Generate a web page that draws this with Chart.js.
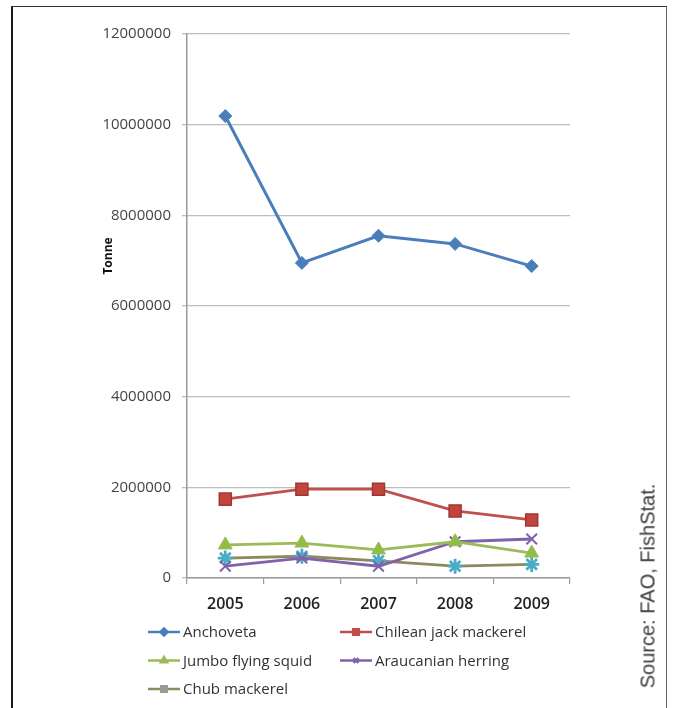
<!DOCTYPE html>
<html>
<head>
<meta charset="utf-8">
<script src="https://cdn.jsdelivr.net/npm/chart.js@4.4.1/dist/chart.umd.min.js"></script>
<style>
  html, body { margin: 0; padding: 0; background: #fff; }
  #wrap { position: relative; width: 678px; height: 708px; overflow: hidden; }
  #frame {
    position: absolute; left: 11px; top: 6px; width: 653px; height: 760px;
    border-left: 2px solid #1a1a1a; border-top: 1.5px solid #333; border-right: 1px solid #666;
  }
  #source {
    position: absolute; left: 648px; top: 586px;
    transform: translate(-50%, -50%) rotate(-90deg);
    white-space: nowrap; font: 20px "Liberation Sans", Arial, sans-serif; color: #3a3a3a;
  }
  canvas { position: absolute; left: 0; top: 0; }
</style>
</head>
<body>
<div id="wrap">
  <div id="frame"></div>
  <canvas id="catchChart" width="678" height="708"></canvas>
  <div id="source">Source: FAO, FishStat.</div>
</div>
<script>
// catches in tonnes, 2005-2009
const years = ['2005', '2006', '2007', '2008', '2009'];
const anchoveta = [10190000, 6950000, 7550000, 7370000, 6880000];
const chileanJackMackerel = [1740000, 1960000, 1960000, 1480000, 1280000];
const jumboFlyingSquid = [730000, 770000, 620000, 800000, 550000];
const araucanianHerring = [260000, 440000, 260000, 800000, 860000];
const chubMackerel = [440000, 480000, 380000, 260000, 300000];
const yTickValues = [0, 2000000, 4000000, 6000000, 8000000, 10000000, 12000000];

const baseFont = '"Open Sans", "Liberation Sans", sans-serif';

// draws "Tonne" and the two-column legend under the axis
const extrasPlugin = {
    id: 'extras',
    afterDraw(chart) {
        const ctx = chart.ctx;
        ctx.save();
        ctx.translate(109, 256);
        ctx.rotate(-Math.PI / 2);
        ctx.font = 'bold 12px ' + baseFont;
        ctx.fillStyle = '#111';
        ctx.textAlign = 'center';
        ctx.textBaseline = 'middle';
        ctx.fillText('Tonne', 0, 0);
        ctx.restore();

        chart.data.datasets.forEach((ds, i) => {
            const col = i % 2;
            const row = Math.floor(i / 2);
            const x0 = col ? 340 : 148;
            const y = 632 + row * 28.5;
            ctx.save();
            ctx.strokeStyle = ds.borderColor;
            ctx.lineWidth = 2.5;
            ctx.beginPath();
            ctx.moveTo(x0, y);
            ctx.lineTo(x0 + 32, y);
            ctx.stroke();
            const mk = ds.legendPoint;
            ctx.fillStyle = mk.color;
            ctx.strokeStyle = mk.color;
            Chart.helpers.drawPoint(ctx, { pointStyle: mk.style, radius: mk.radius, rotation: 0, borderWidth: 1.5 }, x0 + 16, y);
            ctx.fillStyle = '#333';
            ctx.font = '15px ' + baseFont;
            ctx.textAlign = 'left';
            ctx.textBaseline = 'middle';
            ctx.fillText(ds.label, x0 + 35, y + 1);
            ctx.restore();
        });
    }
};

new Chart(document.getElementById('catchChart').getContext('2d'), {
    type: 'line',
    data: {
        labels: years,
        datasets: [{
            label: 'Anchoveta',
            data: anchoveta,
            borderColor: '#4a7ebb',
            backgroundColor: '#4a7ebb',
            borderWidth: 3,
            pointStyle: 'rectRot',
            pointRadius: 6.5,
            pointBorderWidth: 1,
            legendPoint: { style: 'rectRot', radius: 3.5, color: '#4a7ebb' }
        }, {
            label: 'Chilean jack mackerel',
            data: chileanJackMackerel,
            borderColor: '#c0504d',
            backgroundColor: '#c0453f',
            pointBorderColor: '#a33530',
            borderWidth: 2.8,
            pointStyle: 'rect',
            pointRadius: 8.5,
            pointBorderWidth: 1.5,
            legendPoint: { style: 'rect', radius: 4, color: '#c0504d' }
        }, {
            label: 'Jumbo flying squid',
            data: jumboFlyingSquid,
            borderColor: '#9bbb59',
            backgroundColor: '#92bd45',
            borderWidth: 2.8,
            pointStyle: 'triangle',
            pointRadius: 8,
            pointBorderWidth: 1,
            legendPoint: { style: 'triangle', radius: 3.5, color: '#9bbb59' }
        }, {
            label: 'Araucanian herring',
            data: araucanianHerring,
            borderColor: '#7f62aa',
            backgroundColor: '#7f62aa',
            borderWidth: 2.8,
            pointStyle: 'crossRot',
            pointRadius: 7.5,
            pointBorderWidth: 2,
            legendPoint: { style: 'crossRot', radius: 3.5, color: '#7f62aa' }
        }, {
            label: 'Chub mackerel',
            data: chubMackerel,
            borderColor: '#8f8a5c',
            backgroundColor: '#4bacc6',
            pointBorderColor: '#4bacc6',
            borderWidth: 2.8,
            pointStyle: 'star',
            pointRadius: 7.5,
            pointBorderWidth: 2.8,
            legendPoint: { style: 'rect', radius: 4, color: '#9a9a90' }
        }]
    },
    options: {
        responsive: false,
        animation: false,
        layout: { padding: { left: 20, top: 34, right: 108, bottom: 90 } },
        elements: { line: { tension: 0 } },
        plugins: {
            legend: { display: false },
            tooltip: { enabled: false }
        },
        scales: {
            x: {
                offset: true,
                grid: { offset: true, drawOnChartArea: false, tickLength: 6, color: '#9a9a9a', lineWidth: 1.2 },
                border: { color: '#9a9a9a', width: 1.5 },
                ticks: { color: '#222', padding: 11, font: { family: baseFont, size: 16, weight: '600' } },
                afterFit: function (scale) { scale.height = 40; }
            },
            y: {
                min: 0,
                max: 12000000,
                afterBuildTicks: function (scale) {
                    scale.ticks = yTickValues.map(v => ({ value: v }));
                },
                grid: { color: '#bdbdbd', lineWidth: 1.3, tickLength: 5 },
                border: { color: '#9a9a9a', width: 1.5 },
                ticks: {
                    color: '#444',
                    padding: 11,
                    font: { family: baseFont, size: 15 },
                    callback: function (value) { return String(value); }
                },
                afterFit: function (scale) { scale.width = 167; }
            }
        }
    },
    plugins: [extrasPlugin]
});
</script>
</body>
</html>
